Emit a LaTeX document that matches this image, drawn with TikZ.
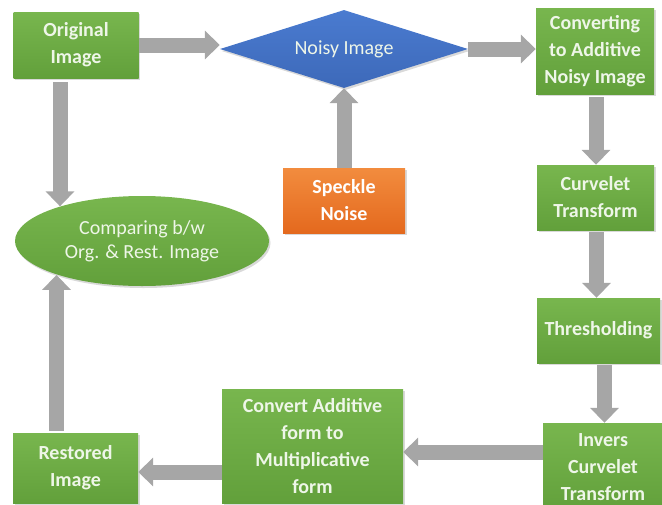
\documentclass[tikz,border=0pt]{standalone}
\usepackage{fontspec}
\setmainfont{Carlito}
\usetikzlibrary{arrows.meta,shapes.geometric,shadows,calc}
\definecolor{grT}{HTML}{78B64E}
\definecolor{grB}{HTML}{62A03B}
\definecolor{blT}{HTML}{4A7BD0}
\definecolor{blB}{HTML}{3D69B9}
\definecolor{orT}{HTML}{F28C3E}
\definecolor{orB}{HTML}{E4691E}
\definecolor{txt}{HTML}{EEF6E8}
\definecolor{arrgray}{HTML}{A6A6A6}
\begin{document}
\begin{tikzpicture}[x=1pt,y=-1pt,
  shad/.style={drop shadow={opacity=0.3, shadow xshift=1.5pt, shadow yshift=-2pt}},
  box/.style={rectangle, inner sep=0pt, top color=grT, bottom color=grB, draw=none,
    text=txt, font=\fontsize{20}{27}\selectfont\bfseries, align=center, shad},
  arr/.style={draw=arrgray, line width=15pt, -{Triangle[length=15pt,width=28pt]}},
]
\useasboundingbox (0,0) rectangle (662,504);

\node[box, minimum width=125pt, minimum height=66pt] (orig) at (76,45) {Original\\Image};
\node[diamond, aspect=3.2, inner sep=0pt, minimum width=248pt, minimum height=78pt,
      top color=blT, bottom color=blB, text=txt, shad,
      font=\fontsize{20}{24}\selectfont] (noisy) at (344,49) {Noisy Image};
\node[box, minimum width=118pt, minimum height=86pt] (conv) at (595,51) {Converting\\to Additive\\Noisy Image};
\node[box, top color=orT, bottom color=orB, text=white, minimum width=122pt, minimum height=65pt] (speck) at (344,200.5) {Speckle\\Noise};
\node[box, minimum width=117pt, minimum height=65pt] (curv) at (595.5,197.5) {Curvelet\\Transform};
\node[ellipse, inner sep=0pt, minimum width=254pt, minimum height=90pt,
      top color=grT, bottom color=grB, text=txt, shad, align=center,
      font=\fontsize{20}{24}\selectfont] (ell) at (142,241) {Comparing b/w\\Org. \& Rest. Image};
\node[box, minimum width=123pt, minimum height=65pt] (thr) at (598.5,330.5) {Thresholding};
\node[box, minimum width=120pt, minimum height=88pt] (inv) at (603,467) {Invers\\Curvelet\\Transform};
\node[box, minimum width=181pt, minimum height=114pt] (cadd) at (312.5,446) {Convert Additive\\form to\\Multiplicative\\form};
\node[box, minimum width=125pt, minimum height=70pt] (rest) at (75.5,468) {Restored\\Image};

\coordinate (o1) at ($(orig.south)+(-16,4)$);
\coordinate (r1) at ($(rest.north)+(-19,-2)$);
\coordinate (t1) at ($(thr.south)+(6,2)$);
\coordinate (i1) at ($(inv.west)+(0,-15)$);
\coordinate (c1) at ($(cadd.west)+(0,26)$);
\coordinate (cv1) at ($(conv.south)+(1,3)$);
\coordinate (cu1) at ($(curv.south)+(1,2)$);

\draw[arr] (orig.east) -- (orig.east -| noisy.west);
\draw[arr] (noisy.east) -- (noisy.east -| conv.west);
\draw[arr] (speck.north) -- (noisy.south);
\draw[arr] (cv1) -- (cv1 |- curv.north);
\draw[arr] (cu1) -- (cu1 |- thr.north);
\draw[arr] (t1) -- (t1 |- inv.north);
\draw[arr] (i1) -- (i1 -| cadd.east);
\draw[arr] (c1) -- (c1 -| rest.east);
\draw[arr] (o1) -- (o1 |- ell.157);
\draw[arr] (r1) -- (r1 |- ell.202);
\end{tikzpicture}
\end{document}
